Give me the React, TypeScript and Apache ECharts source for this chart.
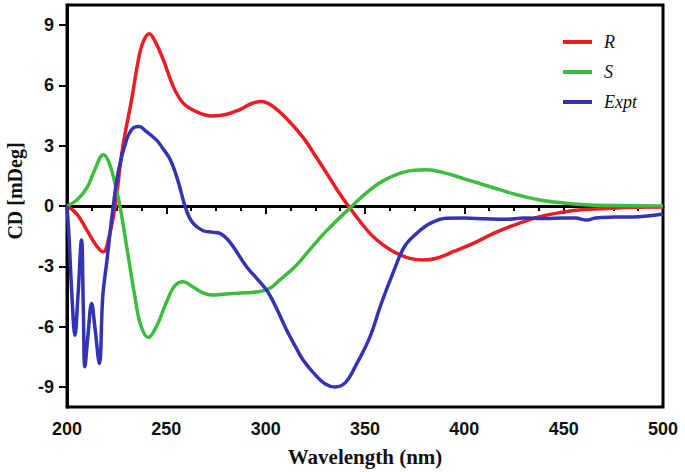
import React, { useEffect, useRef } from "react";
import * as echarts from "echarts";

const rWl = [200, 205, 210, 215, 218.3, 221, 224.2, 228, 232.5, 236, 238.5, 241.4, 244, 248.5, 253.5, 258.5, 265, 273, 280, 287, 293, 298, 303, 310, 318.9, 325, 330.7, 336, 342.4, 352.5, 360, 366, 373, 379.3, 386, 395, 404.5, 415, 425, 438, 450, 460, 471.6, 485, 500];
const rCd = [0, -0.4, -1.2, -2.0, -2.28, -1.6, 0, 2.9, 5.28, 7.3, 8.2, 8.57, 8.25, 7.27, 5.94, 5.12, 4.7, 4.48, 4.55, 4.8, 5.1, 5.2, 5.0, 4.4, 3.4, 2.5, 1.63, 0.8, -0.1, -1.36, -2.0, -2.36, -2.62, -2.69, -2.6, -2.25, -1.86, -1.35, -0.95, -0.53, -0.3, -0.18, -0.12, -0.06, -0.05];

const sWl = [200, 205, 210, 214, 218.3, 221, 224, 227, 230, 234, 237, 240.9, 245, 250, 254, 258.5, 263, 268, 273, 280, 290, 296, 302, 307, 315, 322, 330, 342.4, 352.5, 360, 370, 381, 390, 400, 413, 425, 438, 450, 463, 480, 500];
const sCd = [0, 0.3, 0.9, 1.8, 2.55, 2.2, 1.2, -0.2, -2.0, -4.4, -5.9, -6.54, -6.0, -4.8, -4.0, -3.77, -4.0, -4.3, -4.43, -4.38, -4.32, -4.27, -4.1, -3.69, -3.0, -2.2, -1.3, -0.1, 0.8, 1.3, 1.7, 1.8, 1.65, 1.35, 0.96, 0.6, 0.3, 0.15, 0.05, 0.02, 0];

const eWl = [200, 201, 202.5, 204, 205.5, 207.3, 208.2, 209, 210.5, 212.4, 214, 216.3, 218, 220, 223.3, 226, 230, 233, 236.2, 240, 245, 248, 252, 256, 259.4, 263, 268.6, 273, 277, 282, 290.4, 300.5, 305, 310.6, 315, 318.9, 325, 330, 334.9, 340, 345, 352.5, 358, 365, 370, 376, 383, 391, 400, 410, 421, 430, 440, 450, 456, 461.5, 466, 475, 488, 500];
const eCd = [0, -1.5, -4.5, -6.43, -4.5, -1.69, -5.0, -8.0, -6.5, -4.85, -6.0, -7.84, -4.5, -2.8, 0, 1.8, 3.3, 3.85, 3.95, 3.7, 3.29, 2.9, 2.3, 1.2, 0, -0.8, -1.23, -1.3, -1.36, -1.8, -3.02, -4.19, -5.0, -6.18, -7.0, -7.67, -8.4, -8.85, -9.0, -8.8, -8.0, -6.51, -4.9, -3.1, -2.0, -1.36, -0.85, -0.61, -0.6, -0.63, -0.66, -0.6, -0.62, -0.6, -0.6, -0.7, -0.6, -0.55, -0.53, -0.4];

const yTicks = [-9, -6, -3, 0, 3, 6, 9];
const seriesNames = ["R", "S", "Expt"];
const seriesColors = ["#ec1c24", "#3dbd3d", "#3333b5"];

const pairs = (xs: number[], ys: number[]) => xs.map((x, i) => [x, ys[i]]);

export default function App() {
  const ref = useRef<HTMLDivElement>(null);
  useEffect(() => {
    if (!ref.current) return;
    const chart = echarts.init(ref.current, null, { renderer: "svg" });
    const datasets = [pairs(rWl, rCd), pairs(sWl, sCd), pairs(eWl, eCd)];
    const labelFont = { fontFamily: "Liberation Sans, Arial, sans-serif", fontWeight: "bold" as const, fontSize: 18, color: "#111" };
    const titleFont = { fontFamily: "Liberation Serif, Times New Roman, serif", fontWeight: "bold" as const, color: "#111" };
    chart.setOption({
      animation: false,
      backgroundColor: "#fff",
      grid: { left: 67, right: 22, top: 5, bottom: 65, show: true, borderColor: "#000", borderWidth: 3, containLabel: false, outerBoundsMode: "none" },
      legend: {
        orient: "vertical",
        left: 558,
        top: 27,
        itemWidth: 29,
        itemHeight: 4,
        itemGap: 10,
        icon: "rect",
        textStyle: { fontFamily: "Liberation Serif, Times New Roman, serif", fontStyle: "italic", fontSize: 18, color: "#111", lineHeight: 20, padding: [0, 0, 0, 7] },
        data: seriesNames,
      },
      xAxis: {
        type: "value",
        min: 200,
        max: 500,
        interval: 50,
        name: "Wavelength (nm)",
        nameLocation: "middle",
        nameGap: 39,
        nameTextStyle: { ...titleFont, fontSize: 21, padding: [0, 0, 0, 0] },
        axisLine: { lineStyle: { color: "#000", width: 3 } },
        axisTick: { length: 8, lineStyle: { color: "#000", width: 2 } },
        minorTick: { show: true, splitNumber: 4, length: 5, lineStyle: { color: "#000", width: 2 } },
        axisLabel: { ...labelFont, margin: 13 },
        splitLine: { show: false },
      },
      yAxis: {
        type: "value",
        min: -10,
        max: 10,
        name: "CD [mDeg]",
        nameLocation: "middle",
        nameGap: 42,
        nameTextStyle: { ...titleFont, fontSize: 20, padding: [0, 0, 0, 30] },
        axisLine: { lineStyle: { color: "#000", width: 3 } },
        axisTick: { length: 8, customValues: yTicks, lineStyle: { color: "#000", width: 2 } },
        axisLabel: { ...labelFont, margin: 13, customValues: yTicks },
        splitLine: { show: false },
      },
      series: datasets.map((d, i) => ({
        name: seriesNames[i],
        type: "line",
        data: d,
        smooth: 0.4,
        showSymbol: false,
        symbol: "none",
        color: seriesColors[i],
        lineStyle: { color: seriesColors[i], width: 3.5 },
        z: 2 + i,
        markLine: i === 0 ? {
          silent: true,
          symbol: "none",
          label: { show: false },
          lineStyle: { color: "#000", type: [1.5, 1.5], width: 1 },
          data: [{ yAxis: 0 }],
          z: 1,
        } : undefined,
      })),
    });
    return () => chart.dispose();
  }, []);
  return <div ref={ref} style={{ position: "absolute", left: 0, top: 0, width: 685, height: 472 }} />;
}
